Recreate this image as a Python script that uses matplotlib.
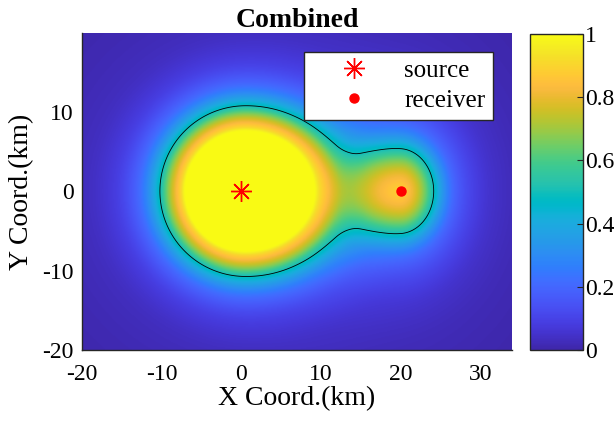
import numpy as np
import matplotlib
matplotlib.use("Agg")
import matplotlib.pyplot as plt
from matplotlib.colors import LinearSegmentedColormap

# positions of source and receiver (km)
source_xy = (0.0, 0.0)
receiver_xy = (20.0, 0.0)

# radial profiles (effective distance in km -> value)
src_r = [0.0, 7.5, 8.1, 9.0, 9.9, 10.7, 12.3, 13.5, 16.5, 20.5, 28.0, 45.0]
src_v = [1.0, 1.0, 0.9, 0.78, 0.64, 0.5, 0.3, 0.2, 0.08, 0.03, 0.01, 0.0]
rec_r = [0.0, 1.5, 3.0, 4.2, 5.5, 6.8, 9.3, 11.8, 16.0, 25.0]
rec_v = [0.87, 0.8, 0.65, 0.48, 0.3, 0.18, 0.08, 0.035, 0.01, 0.0]

# shape of the two lobes (centre shift in km and stretch factors)
src_shift = 0.5
src_stretch_right = 1.15
rec_stretch_left = 1.6
rec_stretch_y = 1.25

x_ticks = [-20, -10, 0, 10, 20, 30]
y_ticks = [-20, -10, 0, 10]
cb_ticks = [0, 0.2, 0.4, 0.6, 0.8, 1]
cb_labels = ["0", "0.2", "0.4", "0.6", "0.8", "1"]

# parula(64)
parula = [
    [0.2422, 0.1504, 0.6603], [0.2504, 0.1650, 0.7076], [0.2578, 0.1818, 0.7511], [0.2647, 0.1978, 0.7952],
    [0.2706, 0.2147, 0.8364], [0.2751, 0.2342, 0.8710], [0.2783, 0.2559, 0.8991], [0.2803, 0.2782, 0.9221],
    [0.2813, 0.3006, 0.9414], [0.2810, 0.3228, 0.9579], [0.2795, 0.3447, 0.9717], [0.2760, 0.3667, 0.9829],
    [0.2699, 0.3892, 0.9906], [0.2602, 0.4123, 0.9952], [0.2440, 0.4358, 0.9988], [0.2206, 0.4603, 0.9973],
    [0.1963, 0.4847, 0.9892], [0.1834, 0.5074, 0.9798], [0.1786, 0.5289, 0.9682], [0.1764, 0.5499, 0.9520],
    [0.1687, 0.5703, 0.9359], [0.1540, 0.5902, 0.9218], [0.1460, 0.6091, 0.9079], [0.1380, 0.6276, 0.8973],
    [0.1248, 0.6459, 0.8883], [0.1113, 0.6635, 0.8763], [0.0952, 0.6798, 0.8598], [0.0689, 0.6948, 0.8394],
    [0.0297, 0.7082, 0.8163], [0.0036, 0.7203, 0.7917], [0.0067, 0.7312, 0.7660], [0.0433, 0.7411, 0.7394],
    [0.0964, 0.7500, 0.7120], [0.1408, 0.7584, 0.6842], [0.1717, 0.7670, 0.6554], [0.1938, 0.7758, 0.6251],
    [0.2161, 0.7843, 0.5923], [0.2470, 0.7918, 0.5567], [0.2906, 0.7973, 0.5188], [0.3406, 0.8008, 0.4789],
    [0.3909, 0.8029, 0.4354], [0.4456, 0.8024, 0.3909], [0.5044, 0.7993, 0.3480], [0.5616, 0.7942, 0.3045],
    [0.6174, 0.7876, 0.2612], [0.6720, 0.7793, 0.2227], [0.7242, 0.7698, 0.1910], [0.7738, 0.7598, 0.1646],
    [0.8203, 0.7498, 0.1535], [0.8634, 0.7406, 0.1596], [0.9035, 0.7330, 0.1774], [0.9393, 0.7288, 0.2100],
    [0.9728, 0.7298, 0.2394], [0.9956, 0.7434, 0.2371], [0.9970, 0.7659, 0.2199], [0.9952, 0.7893, 0.2028],
    [0.9892, 0.8136, 0.1885], [0.9786, 0.8386, 0.1766], [0.9676, 0.8639, 0.1643], [0.9610, 0.8890, 0.1537],
    [0.9597, 0.9135, 0.1423], [0.9628, 0.9373, 0.1265], [0.9691, 0.9606, 0.1064], [0.9769, 0.9839, 0.0805],
]
cmap = LinearSegmentedColormap.from_list("parula", parula, N=256)

plt.rcParams["font.family"] = ["Liberation Serif", "DejaVu Serif"]
plt.rcParams["axes.unicode_minus"] = False


def smooth_profile(xp, yp, x):
    # monotone cubic through the read-off points, so the field has no kinks
    xp = np.asarray(xp, float)
    yp = np.asarray(yp, float)
    h = np.diff(xp)
    d = np.diff(yp) / h
    m = np.zeros_like(yp)
    for k in range(1, len(xp) - 1):
        if d[k - 1] * d[k] > 0:
            w1 = 2 * h[k] + h[k - 1]
            w2 = h[k] + 2 * h[k - 1]
            m[k] = (w1 + w2) / (w1 / d[k - 1] + w2 / d[k])
    x = np.clip(x, xp[0], xp[-1])
    i = np.clip(np.searchsorted(xp, x) - 1, 0, len(h) - 1)
    t = (x - xp[i]) / h[i]
    return ((2 * t**3 - 3 * t**2 + 1) * yp[i] + (t**3 - 2 * t**2 + t) * h[i] * m[i]
            + (-2 * t**3 + 3 * t**2) * yp[i + 1] + (t**3 - t**2) * h[i] * m[i + 1])


# grid for the field
xmin, xmax, ymin, ymax = -20, 34, -20, 19.9
xs = np.linspace(xmin, xmax, 541)
ys = np.linspace(ymin, ymax, 400)
X, Y = np.meshgrid(xs, ys)

# source lobe (drawn out towards the receiver)
dx = X - (source_xy[0] + src_shift)
dx = np.where(dx > 0, dx / src_stretch_right, dx)
r_src = np.hypot(dx, Y - source_xy[1])
# receiver lobe (drawn out towards the source and vertically)
dx = X - receiver_xy[0]
dx = np.where(dx < 0, dx / rec_stretch_left, dx)
r_rec = np.hypot(dx, (Y - receiver_xy[1]) / rec_stretch_y)

P_src = smooth_profile(src_r, src_v, r_src)
P_rec = smooth_profile(rec_r, rec_v, r_rec)
Z = np.clip(1 - (1 - P_src) * (1 - P_rec), 0, 1)

fig = plt.figure(figsize=(6.15, 4.21), dpi=100)
ax = fig.add_axes([82 / 615, 1 - 350 / 421, 430 / 615, 317 / 421])
im = ax.imshow(Z, extent=[xmin, xmax, ymin, ymax], origin="lower", cmap=cmap,
               vmin=0, vmax=1, aspect="auto", interpolation="bilinear")
ax.contour(X, Y, Z, levels=[0.5], colors="k", linewidths=0.6)

ax.plot(*source_xy, linestyle="none", marker=(8, 2, 0), color="red", markersize=15,
        markeredgewidth=1.0, label="source")
ax.plot(*receiver_xy, linestyle="none", marker="o", color="red", markersize=6.5,
        label="receiver")

ax.set_xlim(xmin, xmax)
ax.set_ylim(ymin, ymax)
ax.set_xticks(x_ticks)
ax.set_yticks(y_ticks)
ax.tick_params(axis="x", length=0, labelsize=17, pad=10)
ax.tick_params(axis="y", length=0, labelsize=17, pad=6)
for side in ["top", "right"]:
    ax.spines[side].set_visible(False)
for side in ["left", "bottom"]:
    ax.spines[side].set_color("#262626")
    ax.spines[side].set_linewidth(1.0)

ax.set_xlabel("X Coord.(km)", fontsize=20, labelpad=1)
ax.set_ylabel("Y Coord.(km)", fontsize=20, labelpad=6)
ax.set_title("Combined", fontsize=20, fontweight="bold", pad=4)

leg = ax.legend(loc="upper right", bbox_to_anchor=(0.956, 0.94), fontsize=18,
                fancybox=False, edgecolor="#262626", framealpha=1,
                handlelength=3.4, handletextpad=0.3, borderpad=0.3,
                labelspacing=0.3, borderaxespad=0)
leg.get_frame().set_linewidth(1.0)

# colorbar
cax = fig.add_axes([530 / 615, 1 - 350 / 421, 53 / 615, 316 / 421])
cb = fig.colorbar(im, cax=cax, ticks=cb_ticks)
cb.ax.set_yticklabels(cb_labels)
cb.ax.tick_params(direction="in", length=4, width=0.8, labelsize=17, pad=1.5,
                  color="#262626")
cb.outline.set_edgecolor("#262626")
cb.outline.set_linewidth(1.0)

fig.savefig("out.png", dpi=100)
